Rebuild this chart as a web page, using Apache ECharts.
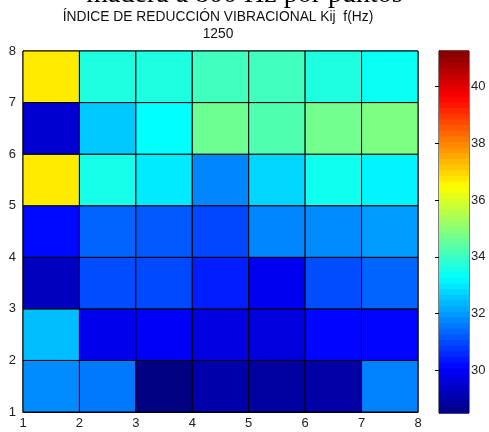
<!DOCTYPE html>
<html lang="es">
  <head>
    <meta charset="UTF-8" />
    <title>Índice de reducción vibracional Kij</title>
    <script src="https://cdn.jsdelivr.net/npm/echarts@6/dist/echarts.min.js"></script>
    <style>
      html, body { margin: 0; padding: 0; background: #fff; }
      #main { width: 489px; height: 432px; }
    </style>
  </head>
  <body>
    <div id="main"></div>

    <script>
      // cell lower-left corners (pcolor style)
      const xCells = [1, 2, 3, 4, 5, 6, 7];
      const yCells = [1, 2, 3, 4, 5, 6, 7];

      // Kij values, one array per row, from y=1 (bottom) to y=7 (top)
      const row1 = [31.84, 31.6, 28.54, 29.03, 28.9, 28.97, 31.7];
      const row2 = [32.47, 29.84, 30.0, 29.71, 29.68, 30.15, 30.15];
      const row3 = [29.28, 31.05, 31.0, 30.47, 29.9, 31.05, 31.34];
      const row4 = [30.2, 31.34, 31.21, 30.95, 31.78, 31.84, 32.03];
      const row5 = [36.72, 33.54, 33.03, 31.78, 32.77, 33.47, 33.15];
      const row6 = [29.52, 32.6, 33.28, 34.65, 34.27, 34.7, 34.84];
      const row7 = [36.72, 33.66, 33.66, 34.08, 34.08, 33.66, 33.41];
      const rows = [row1, row2, row3, row4, row5, row6, row7];

      // colour limits and colorbar ticks
      const cMin = 28.5;
      const cMax = 41.25;
      const barTicks = [30, 32, 34, 36, 38, 40];
      const axisTicks = [1, 2, 3, 4, 5, 6, 7, 8];

      const jet = ['#000080', '#0000ff', '#0080ff', '#00ffff', '#80ff80',
                   '#ffff00', '#ff8000', '#ff0000', '#800000'];

      const cells = [];
      yCells.forEach((y, j) => {
        xCells.forEach((x, i) => {
          cells.push([x, y, rows[j][i]]);
        });
      });

      // colorbar strips
      const nLevels = 64;
      const barData = [];
      for (let k = 0; k < nLevels; k++) {
        const lo = cMin + (cMax - cMin) * k / nLevels;
        const hi = cMin + (cMax - cMin) * (k + 1) / nLevels;
        barData.push([lo, hi, (lo + hi) / 2]);
      }

      const font = 'Liberation Sans';
      const labelStyle = { color: '#222', fontSize: 13, fontFamily: font };

      const chart = echarts.init(document.getElementById('main'));

      chart.setOption({
        animation: false,
        backgroundColor: '#fff',
        graphic: [
          {
            type: 'text', left: 'center', top: -19,
            style: {
              text: 'madera a 800 Hz por puntos',
              font: '28px "Liberation Serif"', fill: '#000'
            }
          },
          {
            type: 'text', x: 218, y: 17,
            style: {
              text: 'ÍNDICE DE REDUCCIÓN VIBRACIONAL Kij  f(Hz)',
              font: '13.8px "Liberation Sans"', fill: '#111',
              align: 'center', verticalAlign: 'middle'
            }
          },
          {
            type: 'text', x: 218, y: 34,
            style: {
              text: '1250',
              font: '13.8px "Liberation Sans"', fill: '#111',
              align: 'center', verticalAlign: 'middle'
            }
          }
        ],
        grid: [
          { left: 23, top: 51, width: 395, height: 361, show: true,
            borderColor: '#000', borderWidth: 1, backgroundColor: 'transparent' },
          { left: 439, top: 51, width: 30, height: 362, show: true,
            borderColor: '#000', borderWidth: 1, backgroundColor: 'transparent' }
        ],
        xAxis: [
          {
            gridIndex: 0, type: 'value', min: 1, max: 8, interval: 1,
            axisLine: { show: true, lineStyle: { color: '#000' } },
            axisTick: { show: false },
            splitLine: { show: false },
            axisLabel: Object.assign({ margin: 5,
              customValues: axisTicks }, labelStyle)
          },
          {
            gridIndex: 1, type: 'value', min: 0, max: 1, show: false
          }
        ],
        yAxis: [
          {
            gridIndex: 0, type: 'value', min: 1, max: 8, interval: 1,
            axisLine: { show: true, lineStyle: { color: '#000' } },
            axisTick: { show: false },
            splitLine: { show: false },
            axisLabel: Object.assign({ margin: 7,
              customValues: axisTicks }, labelStyle)
          },
          {
            gridIndex: 1, type: 'value', min: cMin, max: cMax, position: 'right',
            axisLine: { show: true, lineStyle: { color: '#000' } },
            axisTick: { show: true, inside: true, length: 4,
              customValues: barTicks, lineStyle: { color: '#000' } },
            splitLine: { show: false },
            axisLabel: Object.assign({ margin: 2,
              customValues: barTicks }, labelStyle)
          },
          {
            gridIndex: 1, type: 'value', min: cMin, max: cMax, position: 'left',
            axisLine: { show: true, lineStyle: { color: '#000' } },
            axisTick: { show: true, inside: true, length: 4,
              customValues: barTicks, lineStyle: { color: '#000' } },
            splitLine: { show: false },
            axisLabel: { show: false }
          }
        ],
        visualMap: {
          show: false,
          type: 'continuous',
          min: cMin,
          max: cMax,
          dimension: 2,
          seriesIndex: [0, 1],
          inRange: { color: jet }
        },
        series: [
          {
            type: 'custom',
            xAxisIndex: 0,
            yAxisIndex: 0,
            data: cells,
            encode: { x: 0, y: 1 },
            renderItem: function (params, api) {
              const p0 = api.coord([api.value(0), api.value(1) + 1]);
              const p1 = api.coord([api.value(0) + 1, api.value(1)]);
              return {
                type: 'rect',
                shape: { x: p0[0], y: p0[1], width: p1[0] - p0[0], height: p1[1] - p0[1] },
                style: { fill: api.visual('color'), stroke: '#000', lineWidth: 1 }
              };
            }
          },
          {
            type: 'custom',
            xAxisIndex: 1,
            yAxisIndex: 1,
            data: barData,
            encode: { y: [0, 1] },
            z: 1,
            renderItem: function (params, api) {
              const p0 = api.coord([0, api.value(1)]);
              const p1 = api.coord([1, api.value(0)]);
              return {
                type: 'rect',
                shape: { x: p0[0], y: p0[1] - 0.5, width: p1[0] - p0[0], height: p1[1] - p0[1] + 1 },
                style: { fill: api.visual('color') }
              };
            }
          }
        ]
      });

      window.onresize = function () {
        chart.resize();
      };
    </script>
  </body>
</html>
